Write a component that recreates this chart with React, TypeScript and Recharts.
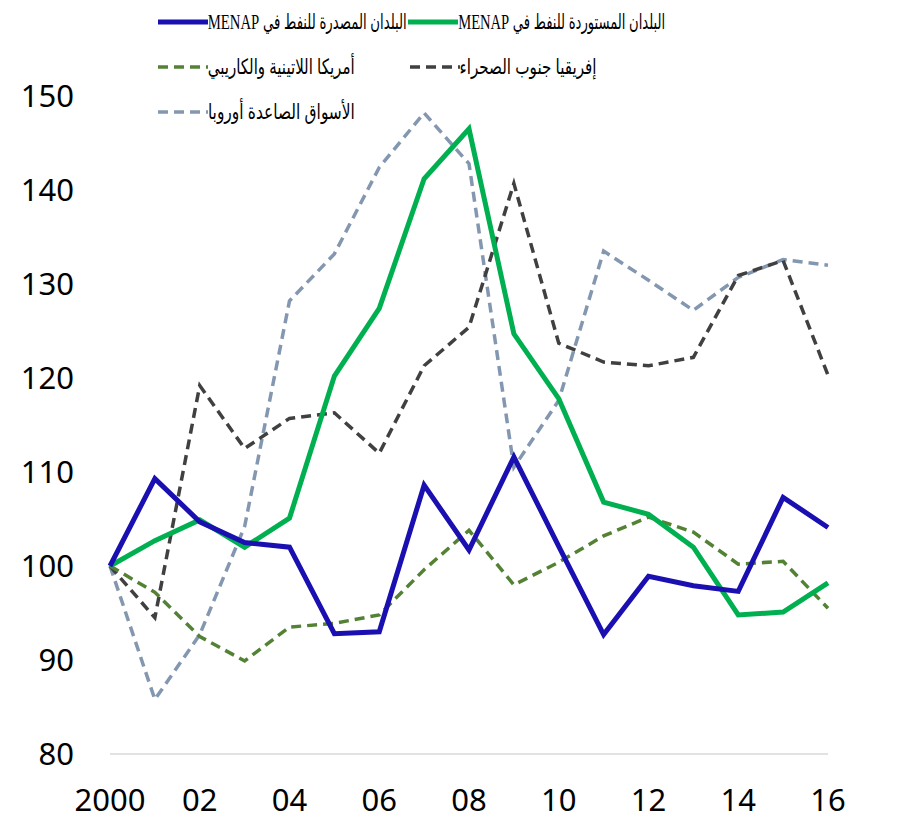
import React, { useLayoutEffect, useRef, useState } from "react";
import { LineChart, Line, XAxis, YAxis } from "recharts";

// years along the bottom, only every other one is labelled
const years = ["2000", "01", "02", "03", "04", "05", "06", "07", "08", "09", "10", "11", "12", "13", "14", "15", "16"];
const yTicks = [80, 90, 100, 110, 120, 130, 140, 150];

const exporters = [100, 109.3, 104.7, 102.5, 102.0, 92.8, 93.0, 108.6, 101.7, 111.6, 102.1, 92.7, 98.9, 97.9, 97.3, 107.3, 104.1];
const importers = [100, 102.7, 104.9, 102.0, 105.1, 120.2, 127.4, 141.2, 146.5, 124.7, 117.8, 106.8, 105.5, 102.0, 94.8, 95.1, 98.2];
const latinAmerica = [100, 97.2, 92.5, 89.9, 93.5, 93.9, 94.8, 99.6, 103.8, 98.0, 100.4, 103.2, 105.2, 103.6, 100.2, 100.5, 95.5];
const subSaharan = [100, 94.5, 119.2, 112.5, 115.7, 116.3, 112.0, 121.3, 125.4, 140.7, 123.7, 121.7, 121.3, 122.2, 130.9, 132.5, 120.3];
const emergingEurope = [100, 85.8, 92.7, 104.2, 128.2, 133.2, 142.4, 148.2, 142.8, 110.5, 117.6, 133.5, 130.4, 127.2, 130.7, 132.6, 132.0];

const data = years.map((label, i) => ({
  label,
  exporters: exporters[i],
  importers: importers[i],
  latinAmerica: latinAmerica[i],
  subSaharan: subSaharan[i],
  emergingEurope: emergingEurope[i],
}));

const tickFont = { fontFamily: "'Noto Sans', 'Open Sans', sans-serif", fontSize: 31, fill: "#000" };

const legendItems = [
  { name: "البلدان المصدرة للنفط في MENAP", color: "#1a0fb0", width: 5, dash: undefined, x: 158, right: 407, y: 22 },
  { name: "البلدان المستوردة للنفط في MENAP", color: "#00b050", width: 5, dash: undefined, x: 408, right: 665, y: 22 },
  { name: "أمريكا اللاتينية والكاريبي", color: "#548235", width: 3.5, dash: "10 6", x: 158, right: 355, y: 67 },
  { name: "إفريقيا جنوب الصحراء", color: "#404040", width: 3.5, dash: "10 6", x: 410, right: 597, y: 67 },
  { name: "الأسواق الصاعدة أوروبا", color: "#8497b0", width: 3.5, dash: "10 6", x: 158, right: 355, y: 112 },
];

// squeezes a label sideways so it ends where the reference's label ends
function FitLabel({ text, width }: { text: string; width: number }) {
  const ref = useRef<HTMLSpanElement>(null);
  const [scale, setScale] = useState(1);
  useLayoutEffect(() => {
    if (ref.current) {
      const w = ref.current.getBoundingClientRect().width;
      if (w > 0) setScale(width / w);
    }
  }, [text, width]);
  return (
    <div style={{ width, height: 28, position: "relative", overflow: "visible" }}>
      <span
        ref={ref}
        dir="rtl"
        style={{
          position: "absolute",
          right: 0,
          top: 0,
          lineHeight: "28px",
          whiteSpace: "nowrap",
          fontFamily: "'Liberation Serif', 'DejaVu Sans Condensed', 'DejaVu Sans', serif",
          fontSize: 21,
          color: "#000",
          transform: `scaleX(${scale})`,
          transformOrigin: "right center",
        }}
      >
        {text}
      </span>
    </div>
  );
}

export default function App() {
  return (
    <div style={{ position: "absolute", left: 0, top: 0, width: 906, height: 819, background: "#fff" }}>
      <LineChart width={906} height={819} data={data} margin={{ top: 96, right: 78, bottom: 30, left: 0 }}>
        <XAxis
          dataKey="label"
          interval={1}
          tickLine={false}
          tickSize={0}
          tickMargin={35}
          axisLine={{ stroke: "#d9d9d9", strokeWidth: 1.5 }}
          tick={tickFont}
          height={35}
        />
        <YAxis
          domain={[80, 150]}
          ticks={yTicks}
          width={110}
          axisLine={false}
          tickLine={false}
          tickSize={0}
          tickMargin={36}
          tick={tickFont}
        />
        <Line dataKey="emergingEurope" stroke="#8497b0" strokeWidth={3.5} strokeDasharray="10 6" dot={false} isAnimationActive={false} />
        <Line dataKey="subSaharan" stroke="#404040" strokeWidth={3.5} strokeDasharray="10 6" dot={false} isAnimationActive={false} />
        <Line dataKey="latinAmerica" stroke="#548235" strokeWidth={3.5} strokeDasharray="10 6" dot={false} isAnimationActive={false} />
        <Line dataKey="importers" stroke="#00b050" strokeWidth={5} dot={false} isAnimationActive={false} />
        <Line dataKey="exporters" stroke="#1a0fb0" strokeWidth={5} dot={false} isAnimationActive={false} />
      </LineChart>

      {/* legend drawn by hand, right-to-left labels */}
      {legendItems.map((item) => (
        <div
          key={item.name}
          style={{
            position: "absolute",
            left: item.x,
            top: item.y - 14,
            height: 28,
            display: "flex",
            alignItems: "center",
          }}
        >
          <svg width={50} height={10} style={{ flexShrink: 0 }}>
            <line x1={0} y1={5} x2={50} y2={5} stroke={item.color} strokeWidth={item.width} strokeDasharray={item.dash} />
          </svg>
          <FitLabel text={item.name} width={item.right - item.x - 50} />
        </div>
      ))}
    </div>
  );
}
